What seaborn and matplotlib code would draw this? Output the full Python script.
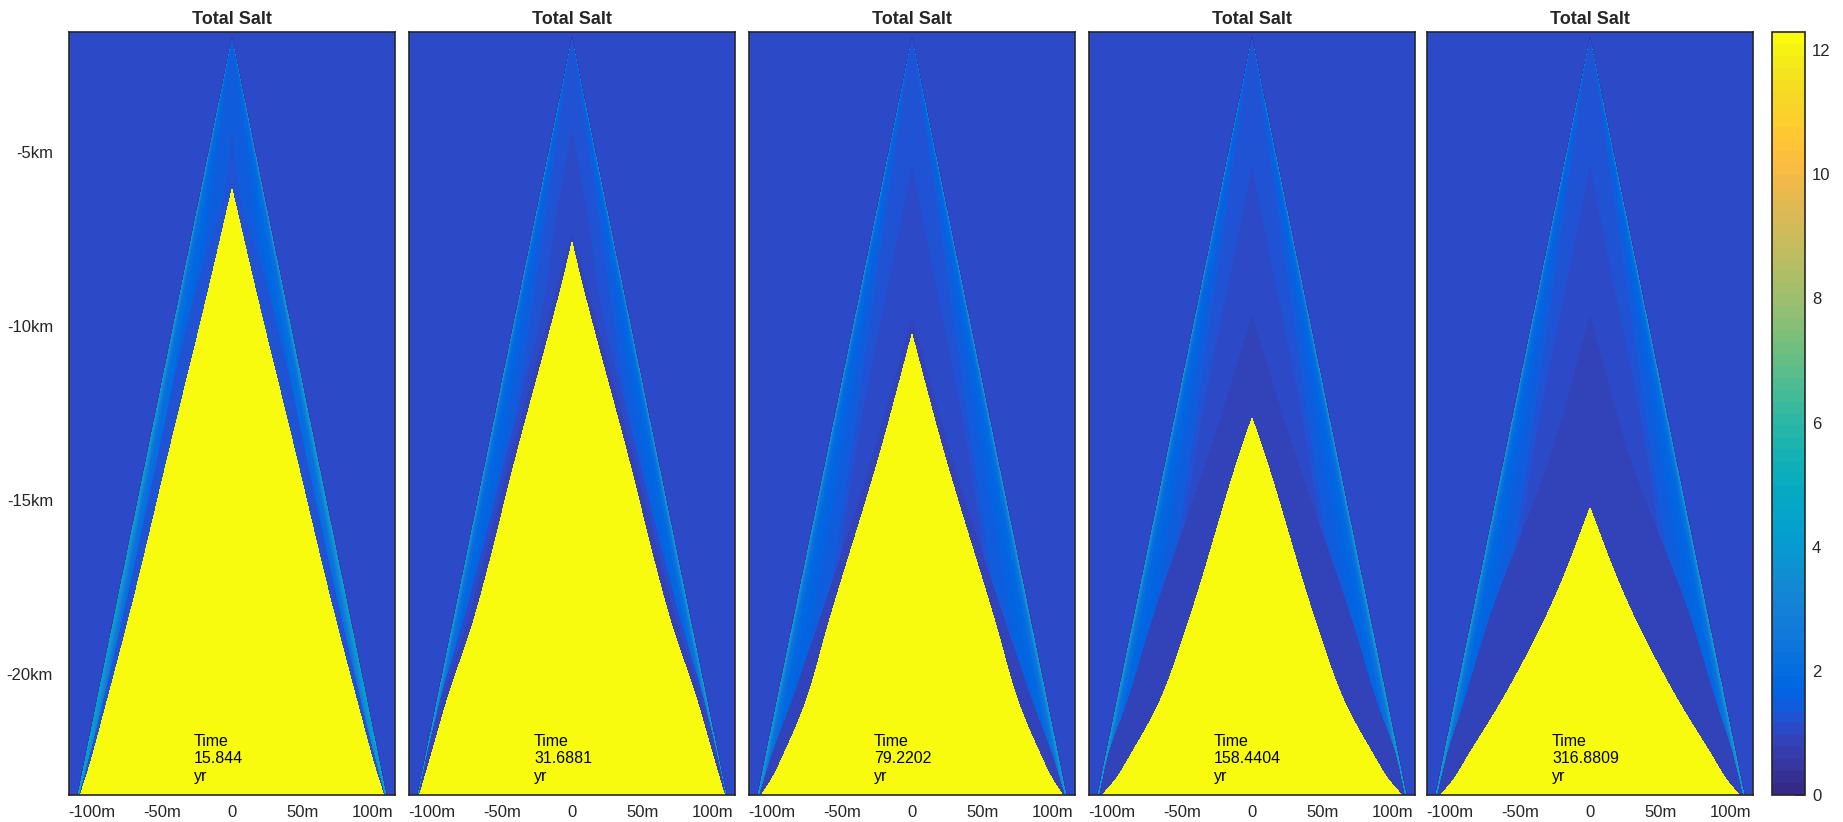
import numpy as np
import matplotlib
matplotlib.use("Agg")
import matplotlib.pyplot as plt
from matplotlib.colors import ListedColormap
import seaborn as sns

# MATLAB parula (64 entries)
PARULA = [
    [0.2081, 0.1663, 0.5292], [0.2116, 0.1898, 0.5777], [0.2123, 0.2138, 0.6270], [0.2081, 0.2386, 0.6771],
    [0.1959, 0.2645, 0.7279], [0.1707, 0.2919, 0.7792], [0.1253, 0.3242, 0.8303], [0.0591, 0.3598, 0.8683],
    [0.0117, 0.3875, 0.8820], [0.0060, 0.4086, 0.8828], [0.0165, 0.4266, 0.8786], [0.0329, 0.4430, 0.8720],
    [0.0498, 0.4586, 0.8641], [0.0629, 0.4737, 0.8554], [0.0723, 0.4887, 0.8467], [0.0779, 0.5040, 0.8384],
    [0.0793, 0.5200, 0.8312], [0.0749, 0.5375, 0.8263], [0.0641, 0.5570, 0.8240], [0.0488, 0.5772, 0.8228],
    [0.0343, 0.5966, 0.8199], [0.0265, 0.6137, 0.8135], [0.0239, 0.6287, 0.8038], [0.0231, 0.6418, 0.7913],
    [0.0228, 0.6535, 0.7768], [0.0267, 0.6642, 0.7607], [0.0384, 0.6743, 0.7436], [0.0590, 0.6838, 0.7254],
    [0.0843, 0.6928, 0.7062], [0.1133, 0.7015, 0.6859], [0.1453, 0.7098, 0.6646], [0.1801, 0.7177, 0.6424],
    [0.2178, 0.7250, 0.6193], [0.2586, 0.7317, 0.5954], [0.3022, 0.7376, 0.5712], [0.3482, 0.7424, 0.5473],
    [0.3953, 0.7459, 0.5244], [0.4420, 0.7481, 0.5033], [0.4871, 0.7491, 0.4840], [0.5300, 0.7491, 0.4661],
    [0.5709, 0.7485, 0.4494], [0.6099, 0.7473, 0.4337], [0.6473, 0.7456, 0.4188], [0.6834, 0.7435, 0.4044],
    [0.7184, 0.7411, 0.3905], [0.7525, 0.7384, 0.3768], [0.7858, 0.7356, 0.3633], [0.8185, 0.7327, 0.3498],
    [0.8507, 0.7299, 0.3360], [0.8824, 0.7274, 0.3217], [0.9139, 0.7258, 0.3063], [0.9450, 0.7261, 0.2886],
    [0.9739, 0.7314, 0.2666], [0.9938, 0.7455, 0.2403], [0.9990, 0.7653, 0.2164], [0.9955, 0.7861, 0.1967],
    [0.9880, 0.8066, 0.1794], [0.9789, 0.8271, 0.1633], [0.9697, 0.8481, 0.1475], [0.9626, 0.8705, 0.1309],
    [0.9589, 0.8949, 0.1132], [0.9598, 0.9218, 0.0948], [0.9661, 0.9514, 0.0755], [0.9763, 0.9831, 0.0538],
]

# ---- data ----
times = ["15.844", "31.6881", "79.2202", "158.4404", "316.8809"]

x_ticks = [-100, -50, 0, 50, 100]
x_tick_labels = ["-100m", "-50m", "0", "50m", "100m"]
y_tick_marks = [-3.53, -8.53, -13.53, -18.53]
y_label_pos = [-5, -10, -15, -20]
y_tick_labels = ["-5km", "-10km", "-15km", "-20km"]
cbar_ticks = [0, 2, 4, 6, 8, 10, 12]

x_lo, x_hi = -116.0, 116.0          # m
y_top, y_bot = -1.55, -23.48        # km
salt_max = 12.29
salt_bg = 1.05
salt_edge_line = 0.6

# outer wedge (m half-width, km depth)
outer_apex = -1.7
outer_base_depth = -23.5
outer_base_hw = 110.0

# yellow (saturated) region boundary: depth (km) -> half-width (m)
yellow_depth = [
    [-6.0, -9.25, -13.5, -17.87, -20.74, -22.67, -23.5],
    [-7.53, -8.55, -13.57, -18.55, -20.69, -22.34, -23.5],
    [-10.18, -13.57, -18.55, -20.69, -22.34, -23.0, -23.5],
    [-12.60, -13.57, -18.55, -20.69, -22.34, -23.0, -23.5],
    [-15.19, -17.39, -18.55, -20.69, -22.34, -23.0, -23.5],
]
yellow_hw = [
    [0, 18.8, 44.5, 70.5, 89, 102, 108.5],
    [0, 6, 39, 71, 88.8, 100.6, 109],
    [0, 22.5, 59.8, 75, 92, 100, 108],
    [0, 8.3, 46, 65, 87, 97, 107.5],
    [0, 21, 34, 62, 87, 97, 107],
]

# dark core around the yellow region
core_value = [0.85, 0.85, 0.85, 0.85, 0.85]
core_depth = [
    [],
    [-7.3, -8.55, -13.57, -18.55, -20.69, -22.34, -23.5],
    [-9.68, -13.57, -18.55, -20.69, -22.34, -23.5],
    [-9.68, -13.57, -18.55, -20.69, -22.34, -23.5],
    [-9.68, -13.57, -18.55, -20.69, -22.34, -23.5],
]
core_hw = [
    [],
    [0, 8.5, 42.5, 75, 92, 103, 109.5],
    [0, 27, 67, 85, 100, 109],
    [0, 30, 72, 88, 102.5, 109],
    [0, 27, 73, 89, 102, 109],
]

# inner wedge between the edge bands and the core
mid_value = [1.25, 1.05, 1.05, 1.05, 1.05]
mid_depth = [
    [-4.2, -6.0, -8.8, -17.87, -20.74, -22.67, -23.5],
    [-4.3, -7.53, -8.55, -13.57, -18.55, -20.69, -22.34, -23.5],
    [-5.4, -7.82, -13.57, -18.55, -23.5],
    [-5.4, -7.82, -13.57, -18.55, -23.5],
    [-5.4, -7.82, -13.57, -18.55, -23.5],
]
mid_hw = [
    [0, 4.7, 25, 75, 91.5, 103.5, 109],
    [0, 14, 17, 46, 78, 93.5, 103.5, 109.5],
    [0, 12, 40, 58, 75],
    [0, 12, 40, 58, 75],
    [0, 12, 40, 58, 75],
]

# bands just inside the outer edge: distance from edge (fraction) -> salt
band_s = [
    [0, 0.05, 0.10, 0.30, 0.45, 1.0],
    [0, 0.025, 0.06, 0.13, 0.30, 1.0],
    [0, 0.025, 0.06, 0.13, 0.30, 1.0],
    [0, 0.025, 0.06, 0.13, 0.30, 1.0],
    [0, 0.025, 0.06, 0.13, 0.30, 1.0],
]
band_v = [
    [4.6, 2.4, 2.0, 1.65, 1.4, 1.35],
    [4.6, 2.4, 1.9, 1.6, 1.3, 1.3],
    [4.6, 2.4, 1.9, 1.6, 1.3, 1.3],
    [4.6, 2.4, 1.9, 1.6, 1.3, 1.3],
    [4.6, 2.4, 1.9, 1.6, 1.3, 1.3],
]

# ---- grid ----
nx, ny = 326, 763
xc = x_lo + (np.arange(nx) + 0.5) * (x_hi - x_lo) / nx
yc = y_top + (np.arange(ny) + 0.5) * (y_bot - y_top) / ny
X, Y = np.meshgrid(xc, yc)


def to_col(x):
    return (np.asarray(x, dtype=float) - x_lo) / (x_hi - x_lo) * nx


def to_row(y):
    return (y_top - np.asarray(y, dtype=float)) / (y_top - y_bot) * ny


def pchip(xp, yp, x):
    """Monotone cubic through the read points, so boundaries come out smooth"""
    xp = np.asarray(xp, float)
    yp = np.asarray(yp, float)
    h = np.diff(xp)
    d = np.diff(yp) / h
    m = np.zeros_like(yp)
    m[0], m[-1] = d[0], d[-1]
    for k in range(1, len(xp) - 1):
        if d[k - 1] * d[k] > 0:
            w1 = 2 * h[k] + h[k - 1]
            w2 = h[k] + 2 * h[k - 1]
            m[k] = (w1 + w2) / (w1 / d[k - 1] + w2 / d[k])
    xc_ = np.clip(x, xp[0], xp[-1])
    k = np.clip(np.searchsorted(xp, xc_) - 1, 0, len(xp) - 2)
    t = (xc_ - xp[k]) / h[k]
    h00 = 2 * t**3 - 3 * t**2 + 1
    h10 = t**3 - 2 * t**2 + t
    h01 = -2 * t**3 + 3 * t**2
    h11 = t**3 - t**2
    out = h00 * yp[k] + h10 * h[k] * m[k] + h01 * yp[k + 1] + h11 * h[k] * m[k + 1]
    out[x < xp[0]] = 0.0
    return out


def halfwidth(depths, hws):
    if len(depths) == 0:
        return np.zeros_like(Y)
    return pchip(-np.asarray(depths), hws, -Y)


def salt_field(i):
    ax_ = np.abs(X)
    w_out = np.clip(outer_base_hw * (outer_apex - Y) / (outer_apex - outer_base_depth), 0, None)
    Z = np.full(X.shape, salt_bg)
    inside = ax_ < w_out
    s = 1 - ax_[inside] / w_out[inside]
    Z[inside] = np.interp(s, band_s[i], band_v[i])
    edge = (ax_ >= w_out) & (ax_ < w_out + 0.6) & (w_out > 0)
    Z[edge] = salt_edge_line
    for depths, hws, val in [(mid_depth[i], mid_hw[i], mid_value[i]),
                             (core_depth[i], core_hw[i], core_value[i]),
                             (yellow_depth[i], yellow_hw[i], salt_max)]:
        hw = np.minimum(halfwidth(depths, hws), w_out)
        Z[ax_ < hw] = val
    return Z


sns.set_theme(style="white")
plt.rcParams['font.family'] = ['Liberation Sans', 'DejaVu Sans']

W, H = 1843, 822
fig = plt.figure(figsize=(W / 100, H / 100), dpi=100)
cmap = ListedColormap(PARULA)

lefts = [69, 409, 749, 1089, 1427]
top_px, bot_px, width_px = 32, 795, 326
cax = fig.add_axes([1772 / W, (H - bot_px) / H, 33 / W, (bot_px - top_px) / H])

for i, t in enumerate(times):
    ax = fig.add_axes([lefts[i] / W, (H - bot_px) / H, width_px / W, (bot_px - top_px) / H])
    last = i == len(times) - 1
    sns.heatmap(salt_field(i), ax=ax, cmap=cmap, vmin=0, vmax=salt_max,
                xticklabels=False, yticklabels=False,
                cbar=last, cbar_ax=cax if last else None, rasterized=True)

    for sp in ax.spines.values():
        sp.set_visible(True)
        sp.set_color('0.15')
        sp.set_linewidth(1.2)

    ax.set_xticks(to_col(x_ticks))
    ax.set_xticklabels(x_tick_labels)
    ax.set_yticks(to_row(y_tick_marks))
    ax.set_yticklabels([])
    ax.set_yticks(to_row(y_label_pos), minor=True)
    ax.set_yticklabels(y_tick_labels if i == 0 else [], minor=True)
    ax.tick_params(axis='both', which='major', direction='in', length=5.5, width=1.1,
                   color='0.15', top=True, bottom=True, left=True, right=True, labelsize=12)
    ax.tick_params(axis='x', which='major', pad=7)
    ax.tick_params(axis='y', which='minor', length=0, left=True, pad=11.5, labelsize=12,
                   labelleft=(i == 0))
    ax.tick_params(axis='y', which='major', labelleft=False)

    ax.set_title("Total Salt", fontsize=13, fontweight='bold', pad=6)
    ax.text(to_col(-27), to_row(-21.72), f"Time\n{t}\nyr", fontsize=11.5,
            ha='left', va='top', color='black')

mappable = fig.axes[-1].collections[0]
cb = mappable.colorbar
cb.outline.set_linewidth(1.2)
cb.outline.set_edgecolor('0.15')
cb.set_ticks(cbar_ticks)
cb.set_ticklabels([str(v) for v in cbar_ticks])
cax.tick_params(direction='in', length=7, width=1.1, color='0.15', right=True, left=False,
                labelsize=12, pad=5)

fig.savefig("out.png", dpi=100)
